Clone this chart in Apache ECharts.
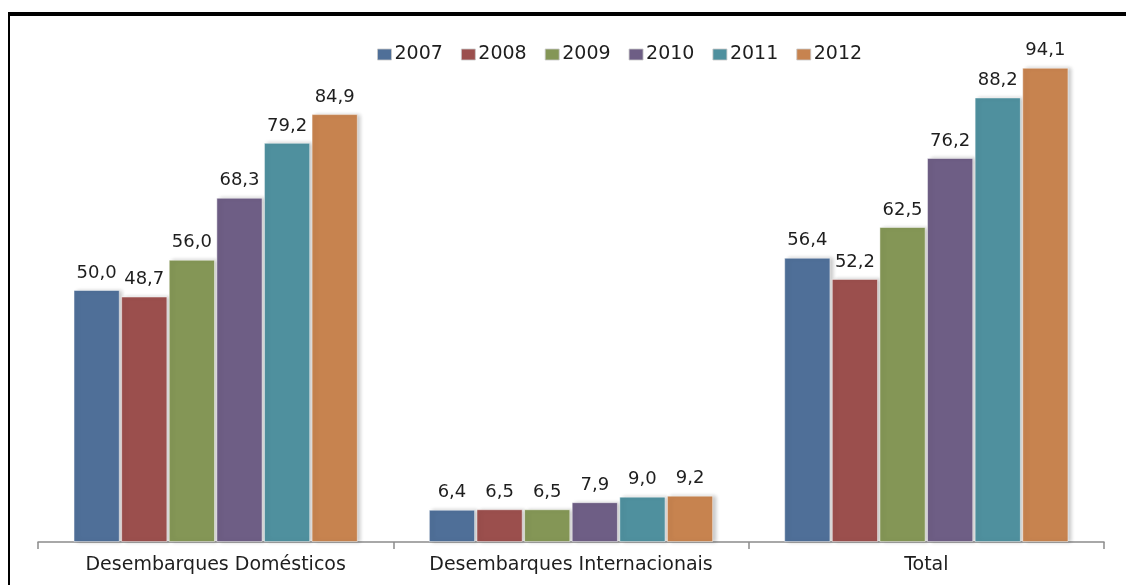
<!DOCTYPE html>
<html>
<head>
<meta charset="utf-8">
<script src="https://cdn.jsdelivr.net/npm/echarts@6/dist/echarts.min.js"></script>
<style>
html,body{margin:0;padding:0;background:#fff;}
#chart{width:1126px;height:585px;}
</style>
</head>
<body>
<div id="chart"></div>
<script>
const categories = ['Desembarques Domésticos', 'Desembarques Internacionais', 'Total'];
const years = ['2007', '2008', '2009', '2010', '2011', '2012'];
const v2007 = [50.0, 6.4, 56.4];
const v2008 = [48.7, 6.5, 52.2];
const v2009 = [56.0, 6.5, 62.5];
const v2010 = [68.3, 7.9, 76.2];
const v2011 = [79.2, 9.0, 88.2];
const v2012 = [84.9, 9.2, 94.1];
const seriesValues = [v2007, v2008, v2009, v2010, v2011, v2012];
const colors = ['#4f6f98', '#9b4f4d', '#849656', '#6e5e85', '#4f909e', '#c7834f'];

const chart = echarts.init(document.getElementById('chart'));
const font = 'DejaVu Sans';
const series = years.map((y, i) => ({
  name: y,
  type: 'bar',
  data: seriesValues[i],
  barGap: '3%',
  barCategoryGap: '20%',
  itemStyle: {
    color: colors[i],
    borderColor: 'rgba(255,255,255,0.45)',
    borderWidth: 1,
    shadowColor: 'rgba(0,0,0,0.22)',
    shadowBlur: 4,
    shadowOffsetX: 3,
    shadowOffsetY: 0
  },
  label: {
    show: true,
    position: 'top',
    distance: 8,
    color: '#1e1e1e',
    fontFamily: font,
    fontSize: 18,
    formatter: p => p.value.toFixed(1).replace('.', ',')
  }
}));

chart.setOption({
  animation: false,
  color: colors,
  textStyle: { fontFamily: font },
  legend: {
    data: years,
    top: 40,
    left: 372,
    itemWidth: 14,
    itemHeight: 11,
    itemGap: 18,
    icon: 'rect',
    textStyle: { fontFamily: font, fontSize: 19, color: '#1e1e1e', padding: [0, 0, 0, -2] },
    itemStyle: { borderColor: 'rgba(200,200,200,0.8)', borderWidth: 1 }
  },
  grid: { left: 38, right: 22, top: 38, bottom: 43 },
  xAxis: {
    type: 'category',
    data: categories,
    axisLine: { lineStyle: { color: '#8c8c8c', width: 1.5 } },
    axisTick: { show: true, interval: 0, length: 7, lineStyle: { color: '#8c8c8c', width: 1.5 } },
    axisLabel: { interval: 0, hideOverlap: false, color: '#1e1e1e', fontFamily: font, fontSize: 19, margin: 14 }
  },
  yAxis: {
    type: 'value',
    min: 0,
    max: 100,
    show: false,
    splitLine: { show: false }
  },
  graphic: [
    { type: 'rect', shape: { x: 8, y: 12, width: 1118, height: 4 }, style: { fill: '#000' }, z: 100 },
    { type: 'rect', shape: { x: 8, y: 12, width: 2, height: 573 }, style: { fill: '#000' }, z: 100 }
  ],
  series: series
});
</script>
</body>
</html>
